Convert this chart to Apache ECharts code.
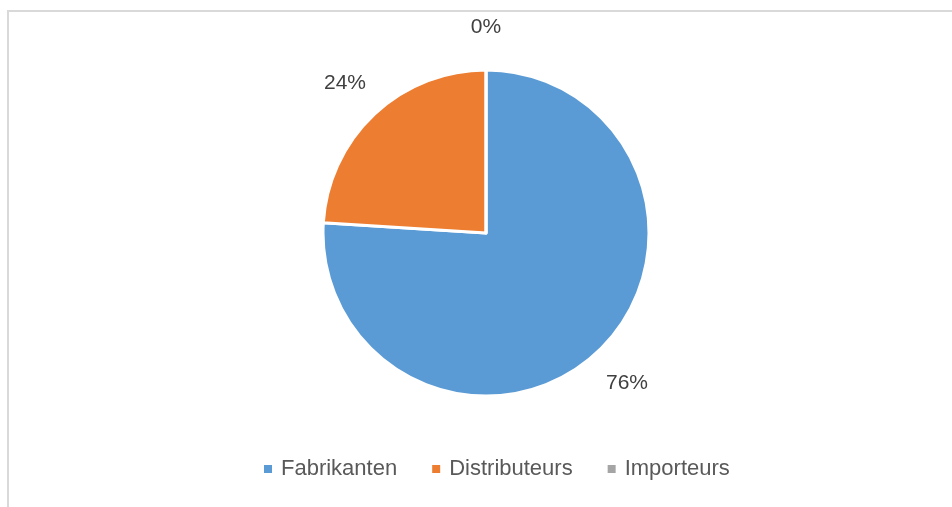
<!DOCTYPE html>
<html>
<head>
<meta charset="utf-8">
<title>Pie</title>
<script src="https://cdn.jsdelivr.net/npm/echarts@6/dist/echarts.min.js"></script>
<style>
    html, body { margin: 0; padding: 0; background: #fff; }
    #frame {
        position: absolute; left: 7px; top: 10px; width: 960px; height: 520px;
        border-left: 2px solid #d9d9d9; border-top: 2px solid #d9d9d9;
    }
    #chart { position: absolute; left: 0; top: 0; width: 952px; height: 507px; }
</style>
</head>
<body>
<div id="frame"></div>
<div id="chart"></div>
<script>
// 类别与数值
const categories = ['Fabrikanten', 'Distributeurs', 'Importeurs'];
const values = [76, 24, 0];
const colors = ['#5B9BD5', '#ED7D31', '#A5A5A5'];

const chart = echarts.init(document.getElementById('chart'));

const pieData = categories.map((name, i) => ({ name: name, value: values[i] }));

const option = {
    animation: false,
    color: colors,
    legend: {
        bottom: 22,
        left: 257,
        itemWidth: 10,
        itemHeight: 10,
        itemGap: 33,
        icon: 'rect',
        textStyle: { color: '#595959', fontSize: 22, fontFamily: 'Liberation Sans', padding: [0, 0, 0, 3] },
        data: categories
    },
    series: [
        {
            type: 'pie',
            center: [486, 233],
            radius: [0, 163],
            startAngle: 90,
            clockwise: true,
            itemStyle: { borderColor: '#fff', borderWidth: 3 },
            label: { show: false },
            labelLine: { show: false },
            data: pieData
        },
        {
            // 透明外环，仅用于放置百分比标签
            type: 'pie',
            center: [486, 233],
            radius: [188, 218],
            startAngle: 90,
            clockwise: true,
            silent: true,
            legendHoverLink: false,
            itemStyle: { color: 'rgba(0,0,0,0)' },
            label: {
                show: true,
                position: 'inside',
                formatter: '{d}%',
                color: '#404040',
                fontSize: 21,
                fontFamily: 'Liberation Sans'
            },
            labelLine: { show: false },
            data: pieData
        }
    ]
};

chart.setOption(option);
</script>
</body>
</html>
